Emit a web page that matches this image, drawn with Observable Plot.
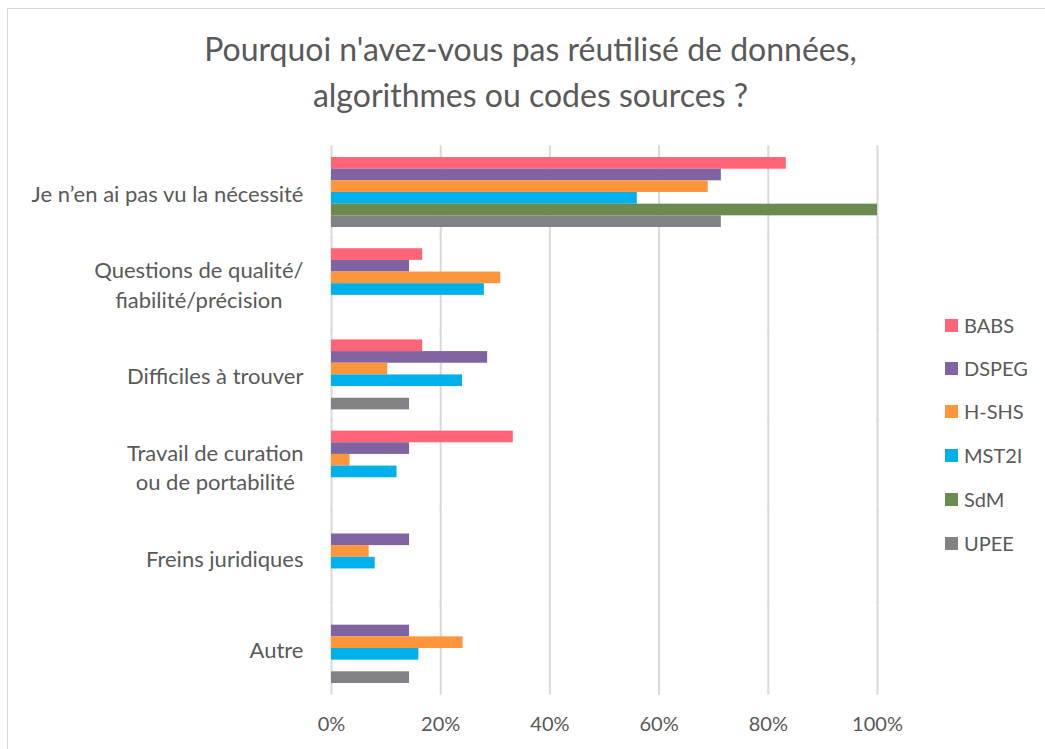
<!DOCTYPE html>
<html><head><meta charset="utf-8">
<script src="https://cdn.jsdelivr.net/npm/d3@7"></script>
<script src="https://cdn.jsdelivr.net/npm/@observablehq/plot@0.6"></script>
<style>
body{margin:0;background:#fff;font-family:Lato, "Open Sans", sans-serif;}
#wrap{position:relative;width:1045px;height:749px;overflow:hidden;background:#fff}
#border{position:absolute;left:7px;top:8px;width:1060px;height:760px;border:1px solid #d9d9d9;box-sizing:border-box;pointer-events:none}
#title{position:absolute;top:26px;left:8px;width:1045px;text-align:center;font-size:32px;line-height:46px;color:#595959}
#chart{position:absolute;top:130px;left:0}
.leg{position:absolute;left:945px;height:24px;display:flex;align-items:center;font-size:20px;color:#595959}
.leg span.sw{display:inline-block;width:13px;height:13px;margin-right:6px}
</style></head>
<body>
<div id="wrap">
  <div id="title">Pourquoi n'avez-vous pas réutilisé de données,<br>algorithmes ou codes sources ?</div>
  <div id="chart"></div>
  <div id="legend"></div>
  <div id="border"></div>
</div>
<script>
const categories = ["Je n’en ai pas vu la nécessité", "Questions de qualité/\nfiabilité/précision", "Difficiles à trouver", "Travail de curation\nou de portabilité", "Freins juridiques", "Autre"];
const series = ["BABS", "DSPEG", "H-SHS", "MST2I", "SdM", "UPEE"];
const colors = ["#ff6477", "#8064a2", "#ff963b", "#00b0ea", "#6a8a50", "#808285"];
const BABS  = [83.3, 16.7, 16.7, 33.3, null, null];
const DSPEG = [71.4, 14.3, 28.6, 14.3, 14.3, 14.3];
const HSHS  = [69.0, 31.0, 10.3, 3.4, 6.9, 24.1];
const MST2I = [56, 28, 24, 12, 8, 16];
const SdM   = [100, null, null, null, null, null];
const UPEE  = [71.4, null, 14.3, null, null, 14.3];
const xTicks = [0, 20, 40, 60, 80, 100];

const seriesValues = [BABS, DSPEG, HSHS, MST2I, SdM, UPEE];
const rows = [];
series.forEach((s, si) => categories.forEach((c, ci) => {
  const v = seriesValues[si][ci];
  if (v != null) rows.push({series: s, category: c, value: v});
}));

const H = 619, MT = 17, MB = 56;
const padIn = 0.233, padOut = 0.11;
const step = (H - MT - MB) / (categories.length - padIn + 2 * padOut);
const gapHalf = step * padIn / 2 + 1;

const chart = Plot.plot({
  width: 1045, height: H,
  marginTop: MT, marginBottom: MB, marginLeft: 331, marginRight: 168,
  style: {fontFamily: "Lato, 'Open Sans', sans-serif", color: "#595959", background: "#fff"},
  x: {domain: [0, 100]},
  fy: {domain: categories, paddingInner: padIn, paddingOuter: padOut, round: false},
  y: {domain: series, padding: 0, axis: null, round: false},
  color: {domain: series, range: colors},
  marks: [
    Plot.ruleX(xTicks, {stroke: "#d9d9d9", strokeWidth: 2, insetTop: -gapHalf, insetBottom: -gapHalf}),
    Plot.barX(rows, {x: "value", y: "series", fy: "category", fill: "series"}),
    Plot.axisX({ticks: xTicks, tickSize: 0, tickPadding: 33, fontSize: 20, tickFormat: d => d + "%", label: null}),
    Plot.axisFy({anchor: "left", tickSize: 0, tickPadding: 28, fontSize: 22, label: null, lineHeight: 1.32})
  ]
});
document.getElementById("chart").appendChild(chart);

// center multi-line category labels within their right-aligned block
chart.querySelectorAll('g[aria-label="fy-axis tick label"] text').forEach(t => {
  const ts = t.querySelectorAll("tspan");
  if (ts.length > 1) {
    const w = t.getBBox().width;
    t.setAttribute("text-anchor", "middle");
    ts.forEach(sp => sp.setAttribute("x", -w / 2));
  }
});

const legendCenters = [325, 368, 411, 455, 499, 543];
const leg = document.getElementById("legend");
series.forEach((s, i) => {
  const d = document.createElement("div");
  d.className = "leg";
  d.style.top = (legendCenters[i] - 12) + "px";
  d.innerHTML = `<span class="sw" style="background:${colors[i]}"></span>${s}`;
  leg.appendChild(d);
});
</script>
</body></html>
